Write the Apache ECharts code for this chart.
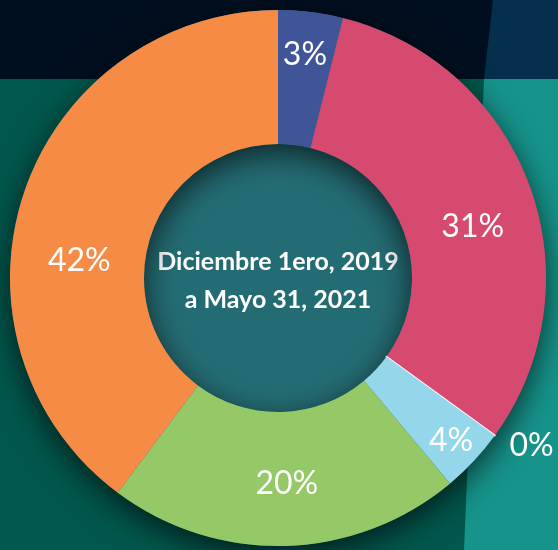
<!DOCTYPE html>
<html>
<head>
<meta charset="utf-8">
<script src="https://cdn.jsdelivr.net/npm/echarts@6/dist/echarts.min.js"></script>
<style>
  html, body { margin: 0; padding: 0; background: #02574c; }
  #chart { width: 558px; height: 550px; }
</style>
</head>
<body>
<div id="chart"></div>
<script>
  // slice sizes as drawn, and the percent text printed on them
  var sliceNames = ['A', 'B', 'C', 'D', 'E', 'F']
  var sliceValues = [3.9, 31.1, 0, 3.9, 21.3, 39.8]
  var sliceLabels = ['3%', '31%', '0%', '4%', '20%', '42%']
  var sliceColors = ['#3f5598', '#d64a70', '#ffffff', '#94d6ea', '#95c967', '#f68b46']
  var centerText = ['Diciembre 1ero, 2019', 'a Mayo 31, 2021']

  // label nudges so the text sits where the original had it
  var labelOffsets = [[2, -21], [3, 18], [0, 0], [24, 24], [3, 2], [-5, 47]]

  var dom = echarts.init(document.getElementById('chart'))

  var pieData = []
  for (var i = 0; i < sliceValues.length; i++) {
    var item = {
      name: sliceNames[i],
      value: sliceValues[i],
      itemStyle: { color: sliceColors[i] },
      label: { offset: labelOffsets[i] }
    }
    if (sliceValues[i] === 0) {
      // the empty slice shows as a thin white line, label outside
      item.itemStyle.borderColor = '#ffffff'
      item.itemStyle.borderWidth = 1.8
      item.label = { position: 'outside', distanceToLabelLine: 0 }
      item.labelLine = { show: false, length: 18, length2: 0 }
    }
    pieData.push(item)
  }

  var option = {
    backgroundColor: '#02574c',
    graphic: [
      { type: 'rect', z: -10, shape: { x: 0, y: 0, width: 558, height: 79 }, style: { fill: '#000f1f' } },
      { type: 'polygon', z: -9, shape: { points: [[493, 0], [558, 0], [558, 79], [484, 79]] }, style: { fill: '#04304d' } },
      { type: 'polygon', z: -9, shape: { points: [[484, 79], [558, 79], [558, 550], [464, 550]] }, style: { fill: '#16938a' } }
    ],
    series: [
      {
        // center disc
        type: 'pie',
        silent: true,
        z: 1,
        center: [278, 278],
        radius: [0, 134],
        label: {
          show: true,
          position: 'center',
          formatter: centerText.join('\n'),
          color: '#ffffff',
          fontFamily: 'Lato',
          fontWeight: 'bold',
          fontSize: 25,
          lineHeight: 38,
          offset: [0, 3]
        },
        labelLine: { show: false },
        data: [{ value: 1, itemStyle: { color: '#246c73' } }]
      },
      {
        // shadow under the ring
        type: 'pie',
        silent: true,
        z: 2,
        center: [278, 278],
        radius: [134, 268],
        label: { show: false },
        labelLine: { show: false },
        data: [{
          value: 1,
          itemStyle: {
            color: '#246c73',
            shadowBlur: 30,
            shadowOffsetY: 9,
            shadowColor: 'rgba(0, 0, 0, 0.65)'
          }
        }]
      },
      {
        type: 'pie',
        silent: true,
        z: 3,
        center: [278, 278],
        radius: [134, 268],
        startAngle: 90,
        clockwise: true,
        avoidLabelOverlap: false,
        label: {
          show: true,
          position: 'inside',
          color: '#ffffff',
          fontFamily: 'Lato',
          fontSize: 32,
          formatter: function (p) {
            return sliceLabels[p.dataIndex]
          }
        },
        labelLine: { show: false },
        data: pieData
      }
    ]
  }

  dom.setOption(option)
</script>
</body>
</html>
